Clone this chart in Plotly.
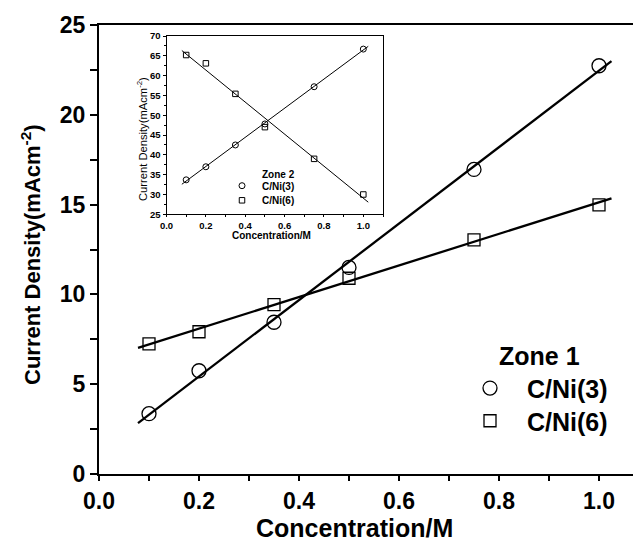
import numpy as np
import plotly.graph_objects as go

# ---- data ----
conc = [0.1, 0.2, 0.35, 0.5, 0.75, 1.0]
z1_cni3 = [3.36, 5.75, 8.45, 11.5, 16.96, 22.73]
z1_cni6 = [7.24, 7.92, 9.43, 10.9, 13.04, 14.99]
z2_cni3 = [33.7, 37.0, 42.5, 47.8, 57.2, 66.7]
z2_cni6 = [65.2, 63.1, 55.4, 47.0, 39.0, 30.0]
fit_span = [0.078, 1.025]
x_ticks = [0.0, 0.2, 0.4, 0.6, 0.8, 1.0]
main_y_ticks = [0, 5, 10, 15, 20, 25]
inset_y_ticks = [25, 30, 35, 40, 45, 50, 55, 60, 65, 70]
series_names = ["C/Ni(3)", "C/Ni(6)"]
y_title = "Current Density(mAcm<sup>-2</sup>)"
x_title = "Concentration/M"

FONT = "Liberation Sans, Arial, sans-serif"
OFF = 8                      # page body margin of the html page
W, H = 641 - OFF, 543 - OFF
L, T = 99 - OFF, 25 - OFF    # plot area in figure pixels
R, B = 0, H - (474 - OFF)
PW, PH = W - L - R, H - T - B


def px(xref):
    """reference-image pixel x -> paper fraction"""
    return (xref - OFF - L) / PW


def py(yref):
    """reference-image pixel y -> paper fraction"""
    return (H - B - (yref - OFF)) / PH


def fit_line(x, y):
    k, b = np.polyfit(x, y, 1)
    xs = np.array(fit_span)
    return xs, k * xs + b


fig = go.Figure()

main_legends = ["legend", "legend2"]
inset_legends = ["legend3", "legend4"]

# main panel
for ys, sym, size, name, lg in [(z1_cni3, "circle-open", 14, series_names[0], main_legends[0]),
                                (z1_cni6, "square-open", 12, series_names[1], main_legends[1])]:
    xs, yl = fit_line(conc, ys)
    fig.add_trace(go.Scatter(x=xs, y=yl, mode="lines", line=dict(color="black", width=2.3),
                             showlegend=False, hoverinfo="skip", xaxis="x", yaxis="y"))
    fig.add_trace(go.Scatter(x=conc, y=ys, mode="markers", name=name,
                             marker=dict(symbol=sym, size=size, color="black",
                                         line=dict(color="black", width=1.3)),
                             xaxis="x", yaxis="y", legend=lg))

# inset panel
for ys, sym, size, name, lg in [(z2_cni3, "circle-open", 6, series_names[0], inset_legends[0]),
                                (z2_cni6, "square-open", 5.5, series_names[1], inset_legends[1])]:
    xs, yl = fit_line(conc, ys)
    fig.add_trace(go.Scatter(x=xs, y=yl, mode="lines", line=dict(color="black", width=1),
                             showlegend=False, hoverinfo="skip", xaxis="x2", yaxis="y2"))
    fig.add_trace(go.Scatter(x=conc, y=ys, mode="markers", name=name,
                             marker=dict(symbol=sym, size=size, color="black",
                                         line=dict(color="black", width=1)),
                             xaxis="x2", yaxis="y2", legend=lg))

axis_common = dict(showgrid=False, zeroline=False, linecolor="black", ticks="outside",
                   tickcolor="black", showline=True, automargin=False)

bold = dict(family=FONT, weight="bold", color="black")


def leg(xref, yref, size, iw):
    return dict(x=px(xref), y=py(yref), xanchor="left", yanchor="middle",
                bgcolor="rgba(0,0,0,0)", font=dict(size=size, **bold), itemwidth=iw)


fig.update_layout(
    width=W, height=H,
    margin=dict(l=L, r=R, t=T, b=B),
    paper_bgcolor="white", plot_bgcolor="white",
    font=dict(family=FONT, color="black"),
    xaxis=dict(**axis_common, domain=[0, 1], range=[0, 1.084], linewidth=2, mirror=True,
               tickvals=x_ticks, ticktext=[f"{v:.1f}" for v in x_ticks], ticklen=5, tickwidth=2,
               tickfont=dict(size=23, **bold),
               minor=dict(dtick=0.1, ticks="outside", ticklen=5, tickwidth=2, tickcolor="black")),
    yaxis=dict(**axis_common, domain=[0, 1], range=[0, 25], linewidth=2, mirror=False,
               tickvals=main_y_ticks, ticklen=7, tickwidth=2,
               tickfont=dict(size=23, **bold),
               minor=dict(dtick=2.5, ticks="outside", ticklen=7, tickwidth=2, tickcolor="black")),
    xaxis2=dict(**axis_common, domain=[px(166.5), px(383)], range=[0, 1.1], linewidth=1,
                mirror=True, anchor="y2", tickvals=x_ticks,
                ticktext=[f"{v:.1f}" for v in x_ticks],
                ticklen=2, tickwidth=1, tickfont=dict(size=9.5, **bold),
                minor=dict(dtick=0.1, ticks="outside", ticklen=2, tickwidth=1, tickcolor="black")),
    yaxis2=dict(**axis_common, domain=[py(214.3), py(36)], range=[25, 70], linewidth=1,
                mirror=True, anchor="x2", tickvals=inset_y_ticks, ticklen=3, tickwidth=1,
                tickfont=dict(size=9.5, **bold),
                minor=dict(dtick=2.5, ticks="outside", ticklen=2, tickwidth=1, tickcolor="black")),
    legend=leg(453, 388.3, 25, 64),
    legend2=leg(453, 421, 25, 64),
    legend3=leg(222, 185.7, 10, 30),
    legend4=leg(222, 200.3, 10, 30),
    annotations=[
        dict(text=x_title, x=px(354), y=py(527.5), xref="paper", yref="paper",
             showarrow=False, font=dict(size=25, **bold), xanchor="center", yanchor="middle"),
        dict(text=y_title, x=px(31), y=py(255), xref="paper", yref="paper", textangle=-90,
             showarrow=False, font=dict(size=22, **bold), xanchor="center", yanchor="middle"),
        dict(text="Zone 1", x=px(497), y=py(356), xref="paper", yref="paper", xanchor="left",
             yanchor="middle", showarrow=False, font=dict(size=25, **bold)),
        dict(text=x_title, x=px(271), y=py(235), xref="paper", yref="paper",
             showarrow=False, font=dict(size=10, **bold), xanchor="center", yanchor="middle"),
        dict(text=y_title, x=px(142), y=py(139), xref="paper", yref="paper", textangle=-90,
             showarrow=False, font=dict(size=11.2, family=FONT, color="black"),
             xanchor="center", yanchor="middle"),
        dict(text="Zone 2", x=px(260), y=py(175), xref="paper", yref="paper", xanchor="left",
             yanchor="middle", showarrow=False, font=dict(size=10, **bold)),
    ],
)

fig.write_html("out.html")
